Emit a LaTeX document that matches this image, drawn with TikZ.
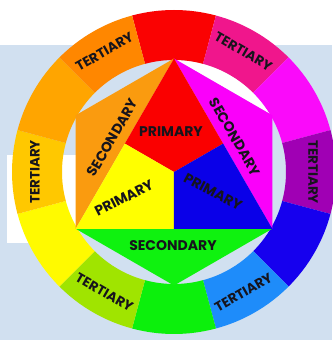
\documentclass[tikz,border=0pt]{standalone}
\usepackage{fontspec}
\setmainfont{Poppins}
\usepackage{tikz}
\definecolor{cwback}{RGB}{209,224,240}
\definecolor{cwink}{RGB}{22,20,28}
% ring colours
\definecolor{cwred}{RGB}{250,2,2}
\definecolor{cwredvio}{RGB}{240,22,140}
\definecolor{cwmag}{RGB}{250,10,250}
\definecolor{cwvio}{RGB}{160,0,180}
\definecolor{cwblue}{RGB}{22,0,238}
\definecolor{cwazure}{RGB}{30,140,250}
\definecolor{cwgreen}{RGB}{12,240,12}
\definecolor{cwlime}{RGB}{160,228,0}
\definecolor{cwyel}{RGB}{255,250,0}
\definecolor{cwamber}{RGB}{255,200,0}
\definecolor{cworange}{RGB}{255,165,0}
\definecolor{cwredor}{RGB}{255,135,0}
% hexagon colours
\definecolor{hxorange}{RGB}{250,155,15}
\definecolor{hxmag}{RGB}{250,0,250}
\definecolor{hxgreen}{RGB}{15,242,15}
\definecolor{hxred}{RGB}{250,0,0}
\definecolor{hxyel}{RGB}{255,255,0}
\definecolor{hxblue}{RGB}{10,0,232}
\tikzset{
  seglbl/.style={font=\fontsize{13.5}{14}\selectfont\bfseries, text=cwink, inner sep=0pt},
  hexlbl/.style={font=\fontsize{14}{15}\selectfont\bfseries, text=cwink, inner sep=0pt}
}

\begin{document}
\begin{tikzpicture}[x=1pt,y=1pt]
  \def\cwrin{112}
  \def\cwrout{162}
  \def\hexr{113.5}
  \useasboundingbox (-174,-168) rectangle (158,172);
  % backdrop
  \fill[white] (-174,-168) rectangle (158,172);
  \fill[cwback] (-174,-168) rectangle (158,127);
  \fill[white] (-167,-71) rectangle (-98,17);
  \begin{scope}
    \clip (0,0) circle (\cwrin);
    \fill[white] (0,\hexr) -- (98.3,56.75) -- (160,56.75) -- (160,160) -- (0,160) -- cycle;
  \end{scope}
  % ring
  \foreach \a/\c in {90/cwred,60/cwredvio,30/cwmag,0/cwvio,-30/cwblue,-60/cwazure,
                     -90/cwgreen,-120/cwlime,-150/cwyel,180/cwamber,150/cworange,120/cwredor} {
    \fill[\c] (\a-15:\cwrin) -- (\a-15:\cwrout)
      arc[start angle=\a-15, end angle=\a+15, radius=\cwrout]
      -- (\a+15:\cwrin)
      arc[start angle=\a+15, end angle=\a-15, radius=\cwrin] -- cycle;
  }
  % hexagon
  \coordinate (ht) at (90:\hexr);
  \coordinate (hul) at (150:\hexr);
  \coordinate (hll) at (210:\hexr);
  \coordinate (hb) at (270:\hexr);
  \coordinate (hlr) at (330:\hexr);
  \coordinate (hur) at (30:\hexr);
  \coordinate (ml) at (150:\hexr/2);
  \coordinate (mr) at (30:\hexr/2);
  \coordinate (mb) at (270:\hexr/2);
  \coordinate (o) at (0,0);
  \fill[hxorange] (ht) -- (hul) -- (hll) -- cycle;
  \fill[hxmag] (ht) -- (hur) -- (hlr) -- cycle;
  \fill[hxgreen] (hll) -- (hb) -- (hlr) -- cycle;
  \fill[hxred] (ht) -- (mr) -- (o) -- (ml) -- cycle;
  \fill[hxyel] (hll) -- (ml) -- (o) -- (mb) -- cycle;
  \fill[hxblue] (hlr) -- (mb) -- (o) -- (mr) -- cycle;
  % labels
  \node[hexlbl] (pred) at (-3,40) {PRIMARY};
  \node[hexlbl, rotate=27] (pyel) at (-50,-26) {PRIMARY};
  \node[hexlbl, rotate=-28] (pblue) at (39,-20) {PRIMARY};
  \node[hexlbl, rotate=60] (sorange) at (-61.5,34.5) {SECONDARY};
  \node[hexlbl, rotate=-60] (smag) at (61,35) {SECONDARY};
  \node[hexlbl] (sgreen) at (-1,-74) {SECONDARY};
  \foreach \a/\r [count=\i] in {120/30,60/-30,0/-90,180/90,-120/-30,-60/30}
    \node[seglbl, rotate=\r] (tert\i) at (\a:139) {TERTIARY};
\end{tikzpicture}
\end{document}
